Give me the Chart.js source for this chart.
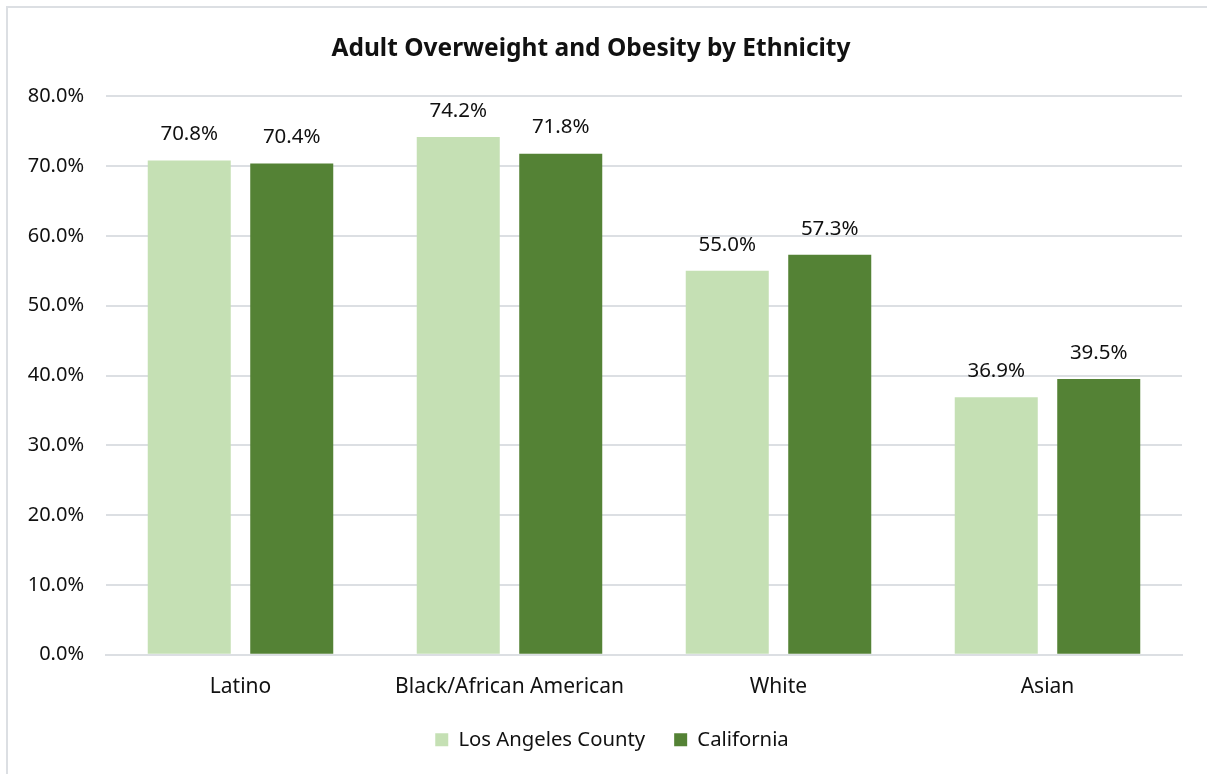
<!DOCTYPE html>
<html>
<head>
<meta charset="utf-8">
<script src="https://cdn.jsdelivr.net/npm/chart.js@4"></script>
<style>
  html, body { margin: 0; padding: 0; background: #fff; }
  #wrap { position: relative; width: 1207px; height: 774px; }
  #frame { position: absolute; left: 6px; top: 6px; width: 1220px; height: 800px;
           border: 2px solid #dcdfe3; box-sizing: border-box; pointer-events: none; }
  canvas { position: absolute; left: 0; top: 0; }
</style>
</head>
<body>
<div id="wrap">
  <canvas id="chart" width="1207" height="774"></canvas>
  <div id="frame"></div>
</div>
<script>
const categories = ['Latino', 'Black/African American', 'White', 'Asian']
const laCounty = [70.8, 74.2, 55.0, 36.9]
const california = [70.4, 71.8, 57.3, 39.5]
const yTicks = [0, 10, 20, 30, 40, 50, 60, 70, 80]

const FONT = "'Noto Sans', 'Open Sans', sans-serif"
const INK = '#111'

// writes the percentage above each bar
const valueLabels = {
    id: 'valueLabels',
    afterDatasetsDraw(chart) {
        const ctx = chart.ctx
        ctx.save()
        ctx.font = `20.5px ${FONT}`
        ctx.fillStyle = INK
        ctx.textAlign = 'center'
        ctx.textBaseline = 'middle'
        chart.data.datasets.forEach((ds, i) => {
            chart.getDatasetMeta(i).data.forEach((bar, j) => {
                ctx.fillText(ds.data[j].toFixed(1) + '%', bar.x, bar.y - 26)
            })
        })
        ctx.restore()
    }
}

// nudge the legend so it sits under the plot area instead of the whole canvas
const legendShift = {
    id: 'legendShift',
    afterLayout(chart) {
        const lg = chart.legend
        if (!lg) return
        lg.left += 21
        lg.right += 21
    }
}

new Chart(document.getElementById('chart'), {
    type: 'bar',
    data: {
        labels: categories,
        datasets: [
            {
                label: 'Los Angeles County',
                data: laCounty,
                backgroundColor: '#c5e0b4'
            },
            {
                label: 'California',
                data: california,
                backgroundColor: '#548235'
            }
        ]
    },
    options: {
        responsive: false,
        animation: false,
        categoryPercentage: 0.762,
        barPercentage: 0.81,
        layout: {padding: {left: 0, right: 25, top: 0, bottom: 14}},
        plugins: {
            title: {
                display: true,
                text: 'Adult Overweight and Obesity by Ethnicity',
                color: INK,
                font: {family: FONT, size: 24.5, weight: 'bold'},
                padding: {top: 34, bottom: 33}
            },
            legend: {
                position: 'bottom',
                labels: {
                    color: INK,
                    font: {family: FONT, size: 20.3},
                    boxWidth: 13,
                    boxHeight: 13,
                    padding: 29
                }
            },
            tooltip: {enabled: false}
        },
        scales: {
            x: {
                grid: {display: false},
                border: {color: '#dcdfe3', width: 2},
                ticks: {color: INK, font: {family: FONT, size: 21}, padding: 12},
                afterFit(scale) { scale.height = 46 }
            },
            y: {
                min: 0,
                max: 80,
                afterBuildTicks(scale) { scale.ticks = yTicks.map(v => ({value: v})) },
                grid: {color: '#dcdfe3', lineWidth: 2, drawTicks: false},
                border: {display: false},
                ticks: {
                    color: INK,
                    font: {family: FONT, size: 20},
                    padding: 22,
                    callback: v => v.toFixed(1) + '%'
                },
                afterFit(scale) { scale.width = 106 }
            }
        }
    },
    plugins: [valueLabels, legendShift]
})
</script>
</body>
</html>
